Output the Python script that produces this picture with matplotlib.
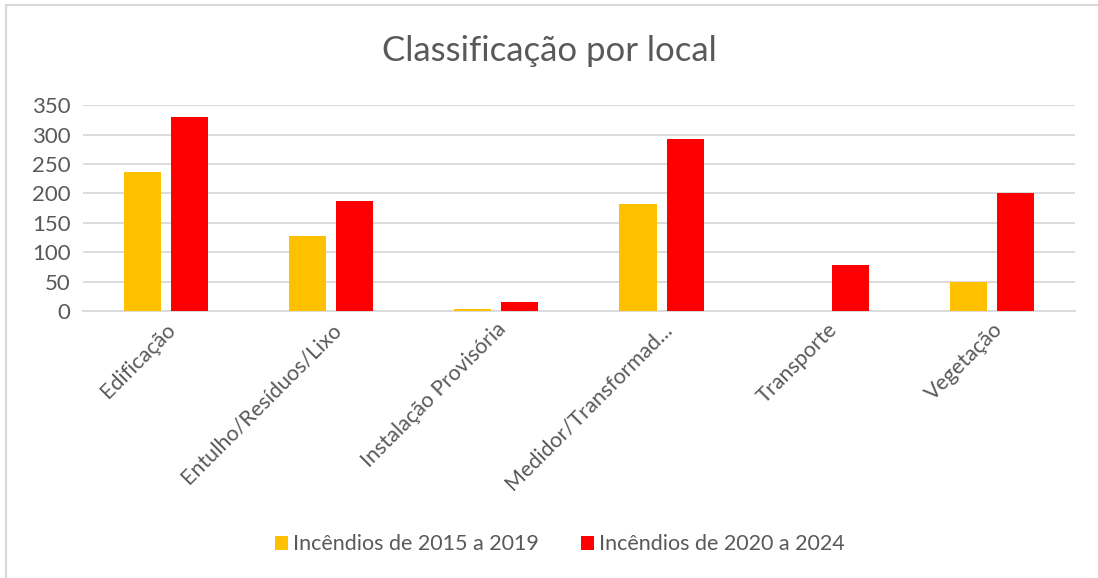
import numpy as np
import matplotlib
matplotlib.use('Agg')
import matplotlib.pyplot as plt
from matplotlib.patches import Rectangle

categories = ['Edificação', 'Entulho/Resíduos/Lixo', 'Instalação Provisória',
              'Medidor/Transformad...', 'Transporte', 'Vegetação']
fires_2015_2019 = [236, 128, 3, 182, 0, 49]
fires_2020_2024 = [330, 187, 15, 292, 78, 201]
series_labels = ['Incêndios de 2015 a 2019', 'Incêndios de 2020 a 2024']
y_ticks = [0, 50, 100, 150, 200, 250, 300, 350]

plt.rcParams['font.family'] = ['Lato', 'DejaVu Sans']
text_color = '#595959'
grid_color = '#D9D9D9'

fig = plt.figure(figsize=(10.98, 5.78), dpi=100)
ax = fig.add_axes([0.0756, 0.462, 0.9034, 0.356])

x = np.arange(len(categories))
w = 0.224
ax.bar(x - 0.143, fires_2015_2019, w, color='#FFC000', label=series_labels[0], zorder=3)
ax.bar(x + 0.143, fires_2020_2024, w, color='#FF0000', label=series_labels[1], zorder=3)

ax.set_xlim(-0.5, len(categories) - 0.5)
ax.set_ylim(0, 350)
ax.set_yticks(y_ticks)
ax.yaxis.grid(True, color=grid_color, linewidth=1.3, zorder=0)
ax.tick_params(axis='y', length=0, labelsize=16, labelcolor=text_color, pad=9)
ax.tick_params(axis='x', length=0, labelsize=15.5, labelcolor=text_color, pad=6)
for side in ['top', 'right', 'left']:
    ax.spines[side].set_visible(False)
ax.spines['bottom'].set_color(grid_color)
ax.spines['bottom'].set_linewidth(1.3)

ax.set_xticks(x)
ax.set_xticklabels(categories, rotation=45, ha='right', rotation_mode='anchor')

fig.text(0.5, 0.912, 'Classificação por local', ha='center', va='center',
         fontsize=25, color=text_color)

fig.legend(loc='center', bbox_to_anchor=(0.51, 0.058), ncol=2, frameon=False,
           fontsize=15.5, labelcolor=text_color, handlelength=0.6, handleheight=0.6,
           handletextpad=0.25, columnspacing=1.95)

fig.patches.append(Rectangle((6 / 1098, -0.1), 1.2, 1.1 - 5 / 578,
                             transform=fig.transFigure, fill=False,
                             edgecolor=grid_color, linewidth=1.5))

fig.savefig('out.png', dpi=100)
